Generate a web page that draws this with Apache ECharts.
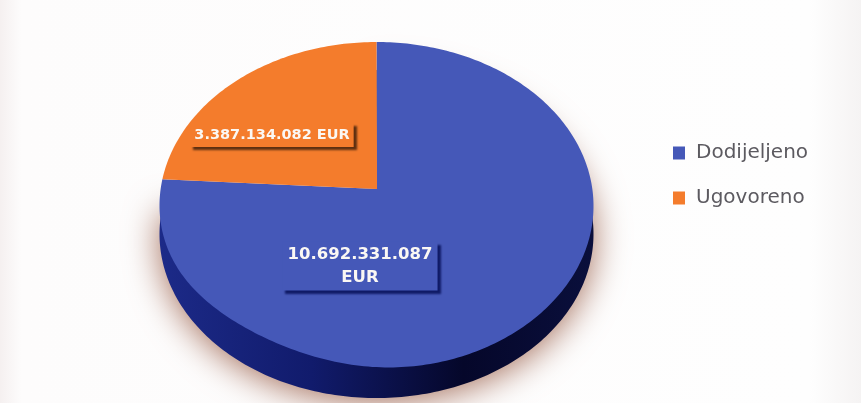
<!DOCTYPE html>
<html><head><meta charset="utf-8">
<style>html,body{margin:0;padding:0;background:#fff}#c{width:861px;height:403px;filter:blur(0.6px)}</style>
<script src="https://cdn.jsdelivr.net/npm/echarts@6/dist/echarts.min.js"></script>
</head><body><div id="c"></div>
<script>
const categories = ['Dodijeljeno', 'Ugovoreno'];
const values = [10692331087, 3387134082];
const sliceColors = ['#4558b8', '#f47c2c'];
const labelLines = [['10.692.331.087', 'EUR'], ['3.387.134.082 EUR']];

const total = values.reduce((a, b) => a + b, 0);
const E = {cx: 376.5, cy: 206, rx: 217, ry: 164, apexX: 377, apexY: 189, depth: 28};

function edgePoint(deg, dy, tilt) {
  const t = deg * Math.PI / 180;
  const ux = Math.sin(t), uy = -Math.cos(t);
  const oy = (E.apexY - E.cy) / E.ry;
  const a = ux * ux + uy * uy, b = 2 * oy * uy, c = oy * oy - 1;
  const k = (-b + Math.sqrt(b * b - 4 * a * c)) / (2 * a);
  const dent = tilt ? 9 * Math.exp(-Math.pow((deg - 212) / 30, 2)) : 0;
  return [E.cx + ux * k * E.rx, E.apexY + uy * k * E.ry + dy - dent];
}
function wedge(from, to, dy, tilt) {
  const pts = [[E.apexX, E.apexY + dy]];
  for (let d = from; d < to; d += 1) pts.push(edgePoint(d, dy, tilt));
  pts.push(edgePoint(to, dy, tilt));
  return pts;
}
function renderSlice(params, api) {
  const i = params.seriesIndex;
  const before = values.slice(0, i).reduce((a, b) => a + b, 0);
  const from = before / total * 360;
  const to = (before + api.value(0)) / total * 360;
  const children = [];
  if (i === 0) {
    children.push({
      type: 'polygon', shape: {points: wedge(from, to, E.depth, false)},
      style: {
        fill: new echarts.graphic.LinearGradient(0, 0, 1, 0, [
          {offset: 0, color: '#1c2a88'}, {offset: 0.35, color: '#111b6c'},
          {offset: 0.7, color: '#05072a'}, {offset: 1, color: '#0a0f3c'}
        ]),
        shadowBlur: 34, shadowOffsetY: 4, shadowColor: 'rgba(160,105,85,0.95)'
      }
    });
  }
  children.push({type: 'polygon', shape: {points: wedge(from, to, 0, true)}, style: {fill: api.visual('color')}});
  const box = i === 0
    ? {x: 360, y: 266, size: 16.5, pad: [2, 5, 1, 5], shadow: '#0f1a66', lh: 23}
    : {x: 272, y: 135, size: 14.5, pad: [2, 4, 2, 4], shadow: '#5d2f10', lh: 20};
  children.push({
    type: 'text', z2: 10,
    style: {
      x: box.x, y: box.y, text: labelLines[i].join('\n'),
      align: 'center', verticalAlign: 'middle',
      fontFamily: 'DejaVu Sans', fontWeight: 'bold', fontSize: box.size, lineHeight: box.lh,
      fill: '#fbf8f4', backgroundColor: api.visual('color'), padding: box.pad,
      shadowColor: box.shadow, shadowBlur: 2, shadowOffsetX: 3, shadowOffsetY: 3
    }
  });
  return {type: 'group', children};
}
const chart = echarts.init(document.getElementById('c'));
chart.setOption({
  animation: false,
  backgroundColor: new echarts.graphic.LinearGradient(0, 0, 1, 0, [
    {offset: 0, color: '#f5f0f0'}, {offset: 0.025, color: '#fdfcfc'},
    {offset: 0.94, color: '#fefefe'}, {offset: 1, color: '#f5f3f3'}
  ]),
  legend: {
    orient: 'vertical', left: 668, top: 138, itemWidth: 12, itemHeight: 13, itemGap: 25,
    icon: 'rect', data: categories,
    textStyle: {fontFamily: 'DejaVu Sans', fontSize: 20, color: '#5c5a60', padding: [0, 0, 0, 6]}
  },
  series: categories.map((name, i) => ({
    type: 'custom', name, coordinateSystem: 'none', silent: true,
    itemStyle: {color: sliceColors[i]},
    data: [[values[i]]], renderItem: renderSlice
  }))
});
</script></body></html>
